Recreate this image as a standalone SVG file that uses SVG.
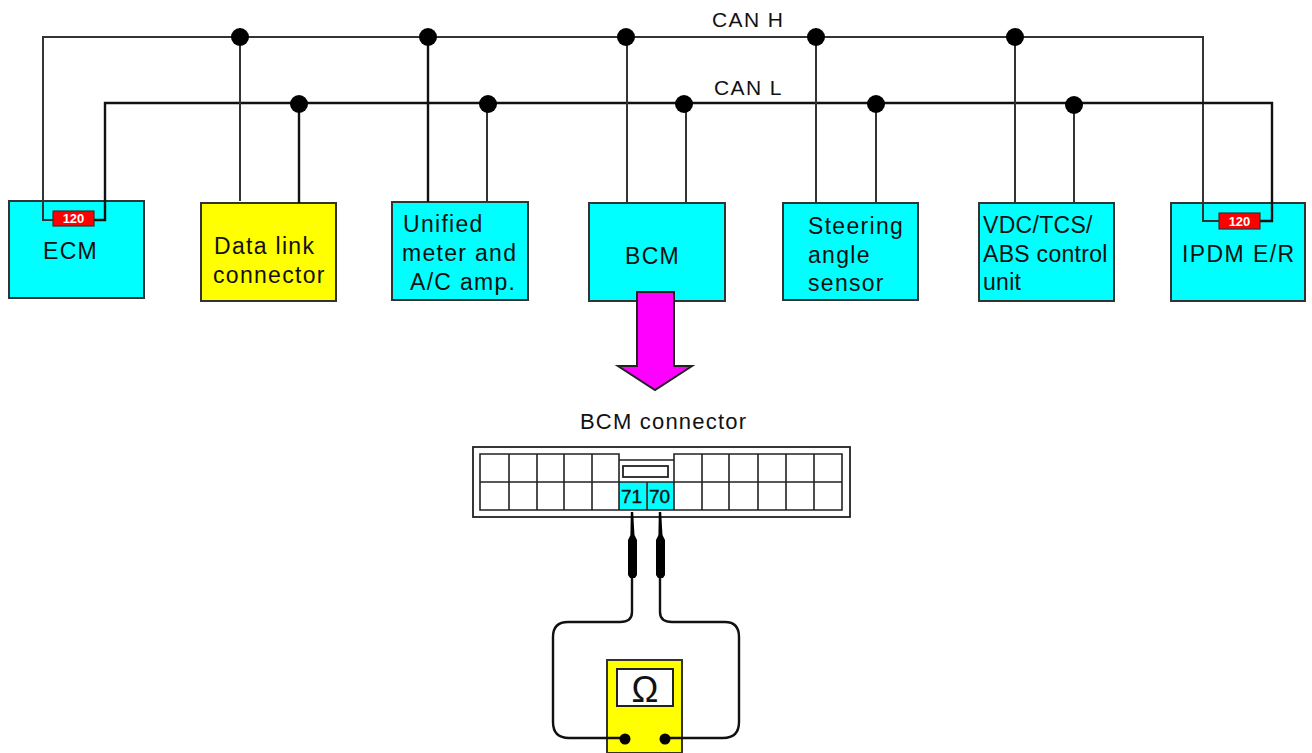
<svg xmlns="http://www.w3.org/2000/svg" width="1312" height="753" viewBox="0 0 1312 753">
<style>
text{font-family:"Liberation Sans",Arial,sans-serif;fill:#111}
.l{font-size:23px;letter-spacing:1.3px}
.can{font-size:21px;letter-spacing:1.4px}
.pin{font-size:19px;stroke:#111;stroke-width:.4px}
.box{stroke:#333;stroke-width:2}
.cy{fill:#00ffff}
.w{fill:none;stroke:#333;stroke-width:2}
.wk{fill:none;stroke:#111;stroke-width:2.4}
.g{fill:none;stroke:#222;stroke-width:1.6}
.res{fill:#ff0000;stroke:#333;stroke-width:1.2}
.rt{font-size:13px;font-weight:bold;fill:#fff;text-anchor:middle}
.d{fill:#000}
</style>
<rect width="1312" height="753" fill="#fff"/>
<g id="node-ecm"><rect class="box cy" x="9" y="201" width="135" height="97"/><text class="l" x="43" y="259">ECM</text></g>
<g id="node-dlc"><rect class="box" fill="#ffff00" x="201" y="203" width="135" height="98"/><text class="l" x="214" y="254">Data link</text><text class="l" x="213" y="283">connector</text></g>
<g id="node-meter"><rect class="box cy" x="392" y="202" width="136" height="98"/><text class="l" x="403" y="232">Unified</text><text class="l" x="402" y="261">meter and</text><text class="l" x="410" y="290">A/C amp.</text></g>
<g id="node-bcm"><rect class="box cy" x="589" y="203" width="136" height="98"/><text class="l" x="625" y="264">BCM</text></g>
<g id="node-steering"><rect class="box cy" x="783" y="203" width="135" height="97"/><text class="l" x="808" y="234">Steering</text><text class="l" x="808" y="263">angle</text><text class="l" x="808" y="291">sensor</text></g>
<g id="node-vdc"><rect class="box cy" x="979" y="203" width="135" height="98"/><text class="l" x="983" y="233" style="letter-spacing:.3px">VDC/TCS/</text><text class="l" x="983" y="262" style="letter-spacing:.3px">ABS control</text><text class="l" x="983" y="290" style="letter-spacing:.3px">unit</text></g>
<g id="node-ipdm"><rect class="box cy" x="1171" y="203" width="134" height="98"/><text class="l" x="1182" y="262" style="letter-spacing:1.4px">IPDM E/R</text></g>
<g id="connectors">
<path class="w" d="M53 220H43V37H1203V221H1219"/>
<path class="wk" d="M94 220H105V103H1272V221H1260"/>
<path class="w" d="M240 37V201M627 37V203M816 37V203M1015 37V203"/>
<path class="wk" d="M428 37V202M299 103V203"/>
<path class="w" d="M487 103V202M686 103V203M876 103V203M1074 103V203"/>
<g class="d">
<circle cx="240" cy="37" r="9"/><circle cx="428" cy="37" r="9"/><circle cx="626" cy="37" r="9"/><circle cx="816" cy="37" r="9"/><circle cx="1015" cy="37" r="9"/>
<circle cx="299" cy="104" r="9"/><circle cx="488" cy="104" r="9"/><circle cx="684" cy="104" r="9"/><circle cx="876" cy="104" r="9"/><circle cx="1074" cy="105" r="9"/>
</g>
<path d="M637 292H674V366H692L655 390L618 366H637Z" fill="#ff00ff" stroke="#222" stroke-width="2"/>
</g>
<g id="res-ecm"><rect class="res" x="53" y="211" width="41" height="15"/><text class="rt" x="73.500" y="223">120</text></g>
<g id="res-ipdm"><rect class="res" x="1219" y="213" width="41" height="16"/><text class="rt" x="1239.500" y="226">120</text></g>
<text class="can" x="712" y="27">CAN H</text>
<text class="can" x="714" y="95">CAN L</text>
<g id="node-bcm-connector">
<text x="580" y="429" style="font-size:22px;letter-spacing:1.200px">BCM connector</text>
<rect x="473" y="447" width="377" height="70" fill="#fff" stroke="#222" stroke-width="1.8"/>
<rect x="619" y="482" width="27" height="28" class="cy"/><rect x="647" y="482" width="27" height="28" class="cy"/>
<path class="g" d="M619 454H480V510H842V454H674V460H619ZM480 482H842M509 454V510M537 454V510M564 454V510M592 454V510M619 454V510M647 482V510M674 454V510M702 454V510M729 454V510M758 454V510M786 454V510M814 454V510"/>
<rect x="623" y="466" width="45" height="11" fill="#fff" stroke="#222" stroke-width="1.8"/>
<text class="pin" x="621" y="503">71</text><text class="pin" x="649" y="503">70</text>
</g>
<g id="node-meter-tester">
<rect x="607" y="660" width="75" height="93" fill="#ffff00" stroke="#333" stroke-width="2"/>
<rect x="617" y="669" width="56" height="37" fill="#fff" stroke="#222" stroke-width="2"/>
<text x="645" y="702" text-anchor="middle" style="font-size:36px">Ω</text>
<path class="wk" d="M632 512V612Q632 622 620 622H568Q553 622 553 637V722Q553 738 569 738H625M660 512V612Q660 622 672 622H725Q739 622 739 637V722Q739 738 723 738H665"/>
<path d="M631 512H633L634.500 535L637 540V575L635 578H630L628 575V540L630.500 535ZM659 512H661L662.500 535L665 540V575L663 578H658L656 575V540L658.500 535Z" fill="#000"/>
<circle cx="625" cy="739" r="5.500" class="d"/><circle cx="665" cy="739" r="5.500" class="d"/>
</g>
</svg>
